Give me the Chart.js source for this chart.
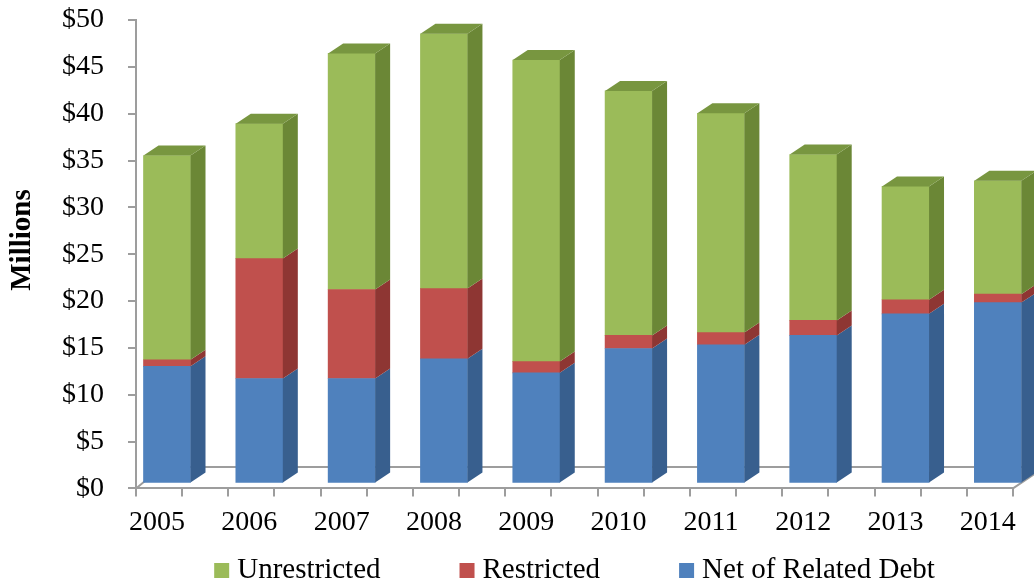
<!DOCTYPE html>
<html>
<head>
<meta charset="utf-8">
<title>Net Position 2005-2014</title>
<script src="https://cdn.jsdelivr.net/npm/chart.js@4.4.1/dist/chart.umd.min.js"></script>
<style>
  html, body { margin: 0; padding: 0; background: #fff; }
</style>
</head>
<body>
<canvas id="netPositionChart" width="1034" height="585"></canvas>
<script>
// -------------------------------
// Data ($ millions)
// -------------------------------
const years = [2005, 2006, 2007, 2008, 2009, 2010, 2011, 2012, 2013, 2014];
const netOfRelatedDebt = [12.5, 11.2, 11.2, 13.3, 11.8, 14.4, 14.8, 15.8, 18.1, 19.3];
const restricted = [0.7, 12.8, 9.5, 7.5, 1.2, 1.4, 1.3, 1.6, 1.5, 0.9];
const unrestricted = [21.8, 14.4, 25.2, 27.2, 32.2, 26.1, 23.4, 17.7, 12.1, 12.1];
const dollarTicks = [0, 5, 10, 15, 20, 25, 30, 35, 40, 45, 50];

// -------------------------------
// Look
// -------------------------------
const AXIS_GREY = "#9d9d9d";
const SERIF = '"Liberation Serif", "Times New Roman", serif';

// x axis runs a bit left of the first year so the tick marks fall between labels
const X_MIN = years[0] - 0.2275;
const X_MAX = X_MIN + years.length - 0.5;
const tickSpots = [];
for (let k = 0; k < years.length * 2; k++) tickSpots.push(X_MIN + k * 0.5);

// 3-D column look: columns sit back on the floor, with a right side and a lid
const SHIFT_X = 10;
const SHIFT_Y = -5;
const SIDE_X = 15;
const SIDE_Y = -10;
const FLOOR_DEPTH = 21.5;

const toSeries = (values) => values.map((v, i) => ({ x: years[i], y: v }));

const column3d = {
  id: "column3d",
  beforeDatasetsDraw(chart) {
    const { ctx, chartArea: a } = chart;
    // floor edges, behind the columns
    ctx.save();
    ctx.strokeStyle = AXIS_GREY;
    ctx.lineWidth = 2;
    ctx.beginPath();
    ctx.moveTo(a.left, a.bottom);
    ctx.lineTo(a.left + FLOOR_DEPTH * 1.2, a.bottom - FLOOR_DEPTH);
    ctx.lineTo(a.right + FLOOR_DEPTH * 1.5, a.bottom - FLOOR_DEPTH);
    ctx.moveTo(a.right, a.bottom);
    ctx.lineTo(a.right + FLOOR_DEPTH * 1.5, a.bottom - FLOOR_DEPTH);
    ctx.stroke();
    ctx.restore();

    ctx.save();
    ctx.translate(SHIFT_X, SHIFT_Y);
  },
  afterDatasetsDraw(chart) {
    const { ctx } = chart;
    const last = chart.data.datasets.length - 1;
    chart.data.datasets.forEach((ds, i) => {
      const meta = chart.getDatasetMeta(i);
      meta.data.forEach((bar) => {
        const { x, y, base, width } = bar.getProps(["x", "y", "base", "width"], true);
        const left = x - width / 2;
        const right = x + width / 2;
        const top = Math.min(y, base);
        const bottom = Math.max(y, base);

        // right side
        ctx.fillStyle = ds.sideColor;
        ctx.beginPath();
        ctx.moveTo(right, top);
        ctx.lineTo(right + SIDE_X, top + SIDE_Y);
        ctx.lineTo(right + SIDE_X, bottom + SIDE_Y);
        ctx.lineTo(right, bottom);
        ctx.closePath();
        ctx.fill();

        // lid on the top segment
        if (i === last) {
          ctx.fillStyle = ds.topColor;
          ctx.beginPath();
          ctx.moveTo(left, top);
          ctx.lineTo(left + SIDE_X, top + SIDE_Y);
          ctx.lineTo(right + SIDE_X, top + SIDE_Y);
          ctx.lineTo(right, top);
          ctx.closePath();
          ctx.fill();
        }
      });
    });
    ctx.restore();
  },
};

// legend row + rotated axis title
const legendRow = {
  id: "legendRow",
  afterDraw(chart) {
    const { ctx, chartArea: a } = chart;
    const box = 15;
    const boxGap = 8;
    const itemGap = 79;
    const baseline = chart.height - 7;

    ctx.save();
    ctx.font = `29px ${SERIF}`;
    ctx.textBaseline = "alphabetic";
    const items = chart.data.datasets.slice().reverse();
    const widths = items.map((ds) => box + boxGap + ctx.measureText(ds.label).width);
    const total = widths.reduce((s, w) => s + w, 0) + itemGap * (items.length - 1);
    let x = (a.left + a.right) / 2 - total / 2;
    items.forEach((ds, i) => {
      ctx.fillStyle = ds.backgroundColor;
      ctx.fillRect(x, baseline - box, box, box);
      ctx.fillStyle = "#000";
      ctx.fillText(ds.label, x + box + boxGap, baseline);
      x += widths[i] + itemGap;
    });

    ctx.translate(23, 240);
    ctx.rotate(-Math.PI / 2);
    ctx.font = `bold 29px ${SERIF}`;
    ctx.textAlign = "center";
    ctx.textBaseline = "middle";
    ctx.fillText("Millions", 0, 0);
    ctx.restore();
  },
};

new Chart(document.getElementById("netPositionChart").getContext("2d"), {
  type: "bar",
  data: {
    datasets: [
      {
        label: "Net of Related Debt",
        data: toSeries(netOfRelatedDebt),
        backgroundColor: "#4f81bd",
        sideColor: "#385f8e",
      },
      {
        label: "Restricted",
        data: toSeries(restricted),
        backgroundColor: "#c0504d",
        sideColor: "#8e3633",
      },
      {
        label: "Unrestricted",
        data: toSeries(unrestricted),
        backgroundColor: "#9bbb59",
        sideColor: "#6b8736",
        topColor: "#789640",
      },
    ],
  },
  options: {
    responsive: false,
    animation: false,
    barThickness: 47,
    clip: false,
    layout: { padding: { top: 0, right: 21, bottom: 37, left: 0 } },
    plugins: { legend: { display: false }, tooltip: { enabled: false } },
    scales: {
      x: {
        type: "linear",
        stacked: true,
        offset: false,
        min: X_MIN,
        max: X_MAX,
        afterBuildTicks: (scale) => {
          scale.ticks = tickSpots.map((v) => ({ value: v }));
        },
        ticks: {
          autoSkip: false,
          maxRotation: 0,
          padding: 9,
          labelOffset: 21,
          color: "#000",
          font: { family: SERIF, size: 28 },
          callback: (v, i) => (i % 2 === 0 ? String(years[i / 2]) : ""),
        },
        grid: { drawOnChartArea: false, offset: false, tickLength: 8, color: AXIS_GREY, lineWidth: 2 },
        border: { color: AXIS_GREY, width: 2 },
      },
      y: {
        stacked: true,
        min: 0,
        max: 50,
        afterBuildTicks: (scale) => {
          scale.ticks = dollarTicks.map((v) => ({ value: v }));
        },
        afterFit: (scale) => {
          scale.width = 136;
          scale.paddingTop = 20;
        },
        ticks: {
          padding: 24,
          color: "#000",
          font: { family: SERIF, size: 28 },
          callback: (v) => "$" + v,
        },
        grid: { drawOnChartArea: false, tickLength: 8, color: AXIS_GREY, lineWidth: 2 },
        border: { color: AXIS_GREY, width: 2 },
      },
    },
  },
  plugins: [column3d, legendRow],
});
</script>
</body>
</html>
